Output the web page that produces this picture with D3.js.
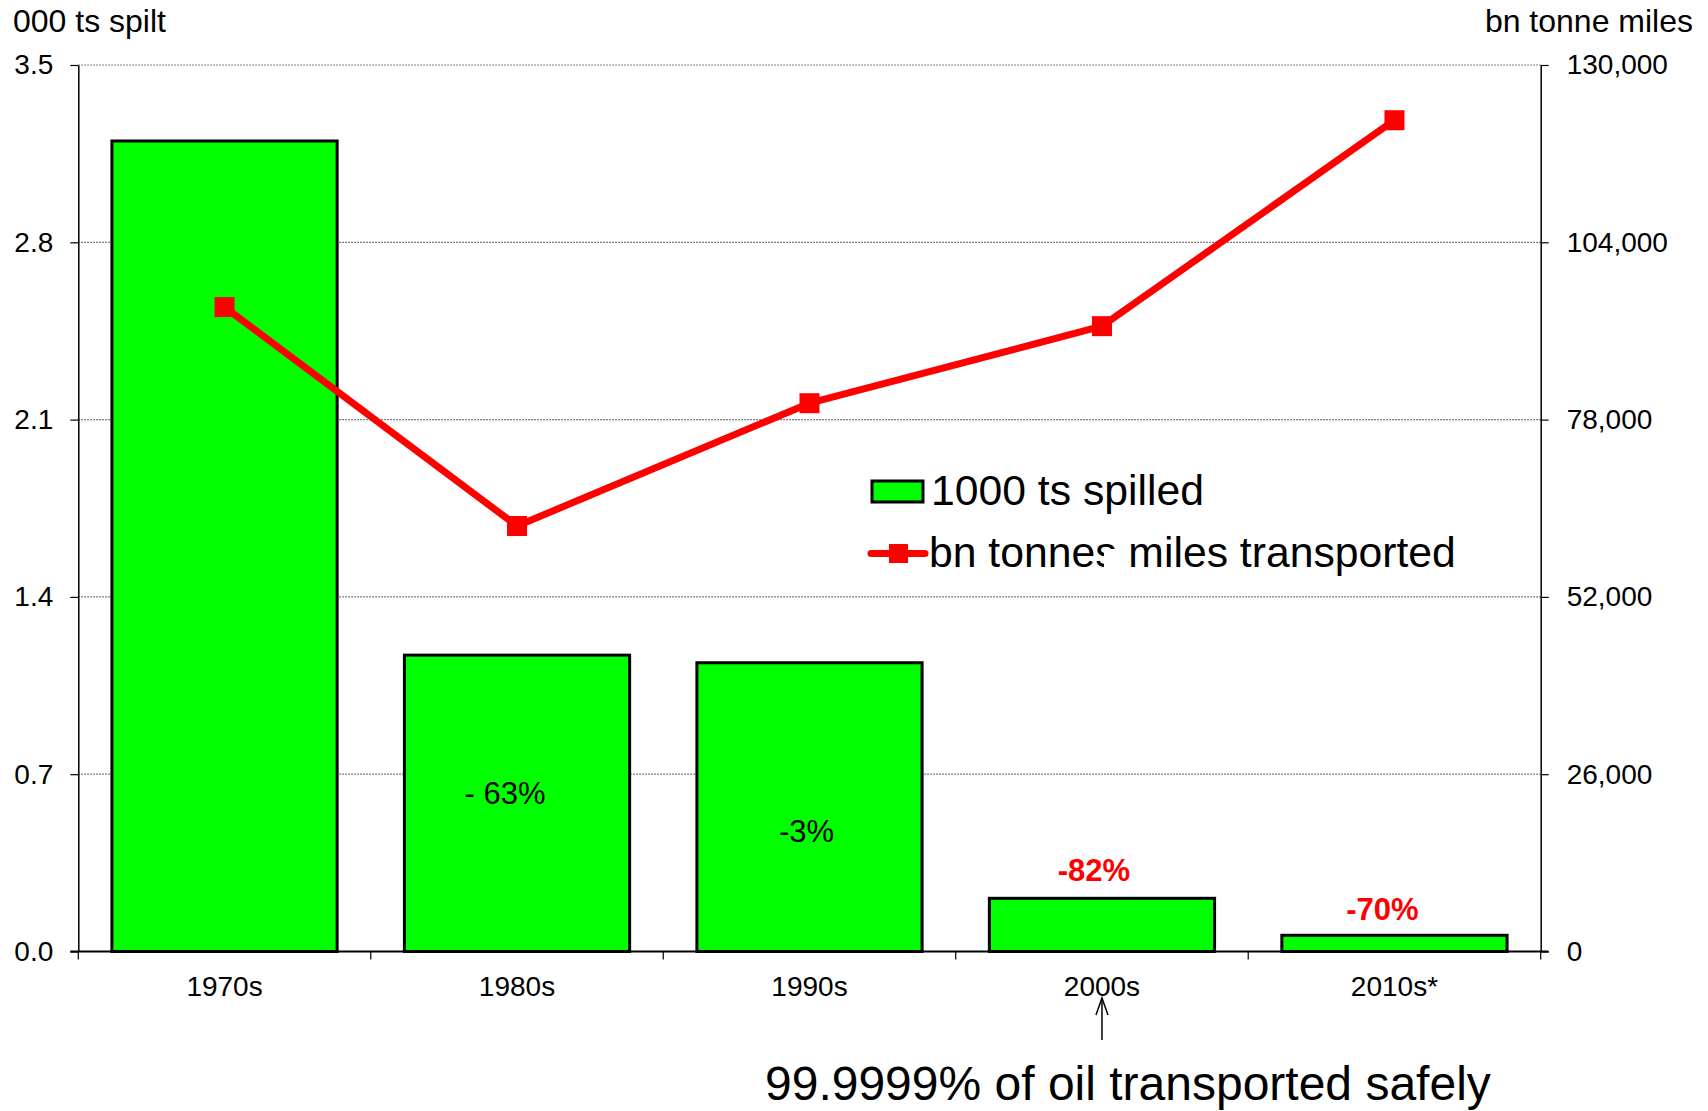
<!DOCTYPE html>
<html>
<head>
<meta charset="utf-8">
<script src="https://cdn.jsdelivr.net/npm/d3@7"></script>
<style>
  html, body { margin: 0; padding: 0; background: #fff; }
  svg { display: block; font-family: "Liberation Sans", Arial, sans-serif; }
</style>
</head>
<body>
<svg id="chart" width="1708" height="1111"></svg>
<script>
// ---- data ----
const categories = ["1970s", "1980s", "1990s", "2000s", "2010s*"];
const spilled = [3.2, 1.17, 1.14, 0.21, 0.064];            // 000 tonnes spilt
const tonneMiles = [94500, 62400, 80400, 91700, 121900];     // bn tonne miles
const leftTicks = [0, 0.7, 1.4, 2.1, 2.8, 3.5];
const rightTicks = [0, 26000, 52000, 78000, 104000, 130000];
const changeLabels = ["- 63%", "-3%", "-82%", "-70%"];       // for 1980s..2010s*
const seriesNames = ["1000 ts spilled", "bn tonnes miles transported"];
const axisTitles = ["000 ts spilt", "bn tonne miles"];
const footnote = "99.9999% of oil transported safely";

// ---- layout ----
const L = 78.3, R = 1540.7, T = 65, B = 951.5;
const svg = d3.select("#chart");

const x = d3.scaleBand().domain(categories).range([L, R]).paddingInner(0.23).paddingOuter(0.115);
const yL = d3.scaleLinear().domain([0, 3.5]).range([B, T]);
const yR = d3.scaleLinear().domain([0, 130000]).range([B, T]);
const step = x.step();

// gridlines
svg.append("g").selectAll("line").data(leftTicks.filter(d => d > 0)).join("line")
  .attr("x1", L).attr("x2", R)
  .attr("y1", d => yL(d)).attr("y2", d => yL(d))
  .attr("stroke", "#555").attr("stroke-width", 1.2).attr("stroke-dasharray", "1.5,1.5");

// bars
svg.append("g").selectAll("rect").data(categories).join("rect")
  .attr("x", d => x(d)).attr("width", x.bandwidth())
  .attr("y", (d, i) => yL(spilled[i]))
  .attr("height", (d, i) => B - yL(spilled[i]))
  .attr("fill", "#00ff00").attr("stroke", "#000").attr("stroke-width", 3);

// left axis
const gl = svg.append("g").attr("transform", `translate(${L},0)`)
  .call(d3.axisLeft(yL).tickValues(leftTicks).tickFormat(d3.format(".1f")).tickSize(8).tickSizeOuter(0).tickPadding(17));
// right axis
const gr = svg.append("g").attr("transform", `translate(${R},0)`)
  .call(d3.axisRight(yR).tickValues(rightTicks).tickFormat(d3.format(",")).tickSize(8).tickSizeOuter(0).tickPadding(18));
[gl, gr].forEach(g => {
  g.selectAll("text").attr("font-size", 28).attr("font-family", "Liberation Sans, Arial, sans-serif").attr("fill", "#000");
  g.selectAll("line").attr("stroke", "#000").attr("stroke-width", 1.2);
  g.select(".domain").attr("stroke", "#000").attr("stroke-width", 1.5);
});

// bottom axis
svg.append("line").attr("x1", L - 8).attr("x2", R + 8).attr("y1", B).attr("y2", B)
  .attr("stroke", "#000").attr("stroke-width", 1.8);
const boundaries = categories.map(c => x(c) - x.paddingOuter() * step).concat([R]);
svg.append("g").selectAll("line").data(boundaries).join("line")
  .attr("x1", d => d).attr("x2", d => d).attr("y1", B).attr("y2", B + 8)
  .attr("stroke", "#000").attr("stroke-width", 1.2);
svg.append("g").selectAll("text").data(categories).join("text")
  .attr("x", d => x(d) + x.bandwidth() / 2).attr("y", B + 44)
  .attr("text-anchor", "middle").attr("font-size", 28).text(d => d);

// axis titles
svg.append("text").attr("x", 13).attr("y", 32).attr("font-size", 32).text(axisTitles[0]);
svg.append("text").attr("x", 1693).attr("y", 32).attr("text-anchor", "end").attr("font-size", 32).text(axisTitles[1]);

// line series
const cx = c => x(c) + x.bandwidth() / 2;
const line = d3.line().x((d, i) => cx(categories[i])).y(d => yR(d));
svg.append("path").datum(tonneMiles).attr("d", line)
  .attr("fill", "none").attr("stroke", "#ff0000").attr("stroke-width", 7).attr("stroke-linejoin", "round");
svg.append("g").selectAll("rect").data(tonneMiles).join("rect")
  .attr("x", (d, i) => cx(categories[i]) - 10).attr("y", d => yR(d) - 10)
  .attr("width", 20).attr("height", 20).attr("fill", "#ff0000");

// change labels
const labelSpec = [
  { dx: -12, dy: 149, color: "#000", weight: "normal", size: 31 },
  { dx: -3, dy: 179, color: "#000", weight: "normal", size: 31 },
  { dx: -8, dy: -17, color: "#ff0000", weight: "bold", size: 31 },
  { dx: -12, dy: -15, color: "#ff0000", weight: "bold", size: 31 }
];
svg.append("g").selectAll("text").data(changeLabels).join("text")
  .attr("x", (d, i) => cx(categories[i + 1]) + labelSpec[i].dx)
  .attr("y", (d, i) => yL(spilled[i + 1]) + labelSpec[i].dy)
  .attr("text-anchor", "middle")
  .attr("font-size", (d, i) => labelSpec[i].size)
  .attr("font-weight", (d, i) => labelSpec[i].weight)
  .attr("fill", (d, i) => labelSpec[i].color)
  .text(d => d);

// legend
const lg = svg.append("g");
lg.append("rect").attr("x", 872).attr("y", 481).attr("width", 51).attr("height", 21)
  .attr("fill", "#00ff00").attr("stroke", "#000").attr("stroke-width", 3);
lg.append("text").attr("x", 931).attr("y", 505).attr("font-size", 42.7).text(seriesNames[0]);
lg.append("line").attr("x1", 871).attr("x2", 925).attr("y1", 553.5).attr("y2", 553.5)
  .attr("stroke", "#ff0000").attr("stroke-width", 7).attr("stroke-linecap", "round");
lg.append("rect").attr("x", 889).attr("y", 544).attr("width", 19).attr("height", 19).attr("fill", "#ff0000");
lg.append("text").attr("x", 929).attr("y", 567).attr("font-size", 42.7).text(seriesNames[1]);
lg.append("rect").attr("x", 1104).attr("y", 549).attr("width", 15).attr("height", 22).attr("fill", "#fff");

// annotation arrow and footnote
const ax = cx(categories[3]);
const ag = svg.append("g").attr("stroke", "#000").attr("stroke-width", 1.5).attr("fill", "none");
ag.append("line").attr("x1", ax).attr("x2", ax).attr("y1", 1040).attr("y2", 998);
ag.append("path").attr("d", `M${ax - 6},${1015} L${ax},${998} L${ax + 6},${1015}`);
svg.append("text").attr("x", 765).attr("y", 1100).attr("font-size", 48).text(footnote);
</script>
</body>
</html>
